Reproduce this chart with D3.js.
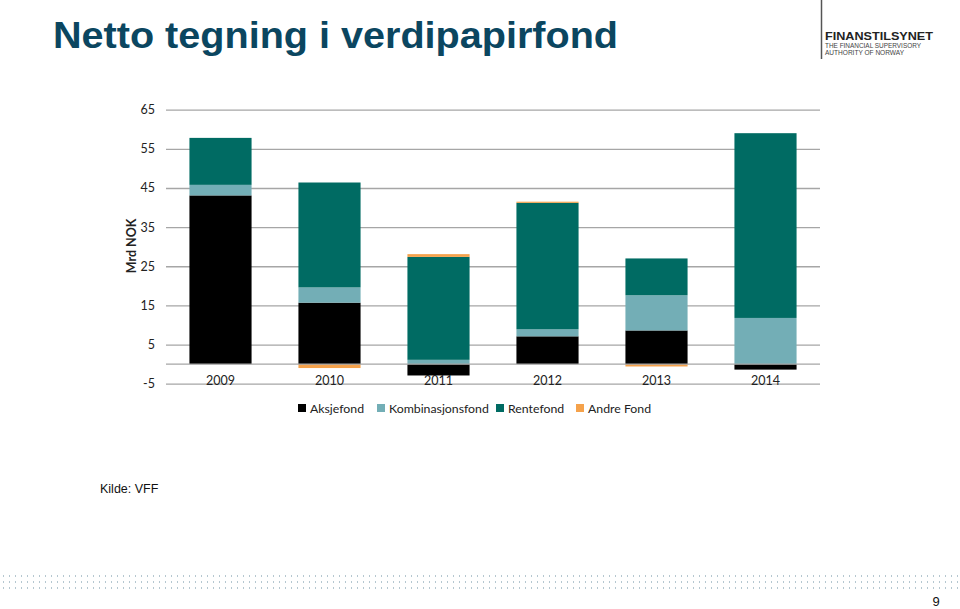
<!DOCTYPE html>
<html><head><meta charset="utf-8">
<script src="https://cdn.jsdelivr.net/npm/d3@7"></script>
<style>body{margin:0;background:#fff;} svg{display:block;}</style>
</head><body>
<svg id="c" width="960" height="609"></svg>
<script>
const years = ["2009","2010","2011","2012","2013","2014"];
const seriesNames = ["Aksjefond","Kombinasjonsfond","Rentefond","Andre Fond"];
const aksjefond        = [43.1, 15.7, -2.9, 7.1, 8.6, -1.4];
const kombinasjonsfond = [2.7, 3.9, 1.1, 1.8, 9.0, 11.8];
const rentefond        = [12.0, 26.8, 26.3, 32.3, 9.4, 47.2];
const andreFond        = [0.0, -1.0, 0.7, 0.3, -0.6, 0.0];
const yTicks = [-5, 5, 15, 25, 35, 45, 55, 65];
const colors = ["#000000","#73aeb6","#006b63","#f5a24b"];

const svg = d3.select("#c");
const seriesVals = [aksjefond, kombinasjonsfond, rentefond, andreFond];

const x = d3.scaleBand().domain(years).range([166, 820]).paddingInner(0.43).paddingOuter(0.215);
const y = d3.scaleLinear().domain([-5, 65]).range([383.7, 109.7]);

// Title
svg.append("text").attr("x", 53).attr("y", 48)
  .attr("font-family", "Liberation Sans, Arial, sans-serif").attr("font-weight", "bold")
  .attr("font-size", 36).attr("fill", "#0b4660").attr("textLength", 565).attr("lengthAdjust","spacingAndGlyphs")
  .text("Netto tegning i verdipapirfond");

// Logo
svg.append("line").attr("x1", 821.5).attr("x2", 821.5).attr("y1", 0).attr("y2", 59).attr("stroke", "#555").attr("stroke-width", 1.5);
svg.append("text").attr("x", 825).attr("y", 39.5).attr("font-family", "Liberation Sans, Arial, sans-serif")
  .attr("font-weight", "bold").attr("font-size", 11.5).attr("fill", "#222").attr("textLength", 108).attr("lengthAdjust","spacingAndGlyphs").text("FINANSTILSYNET");
svg.append("text").attr("x", 825).attr("y", 48).attr("font-family", "Liberation Sans, Arial, sans-serif")
  .attr("font-size", 7).attr("fill", "#444").attr("textLength", 96).attr("lengthAdjust","spacingAndGlyphs").text("THE FINANCIAL SUPERVISORY");
svg.append("text").attr("x", 825).attr("y", 55).attr("font-family", "Liberation Sans, Arial, sans-serif")
  .attr("font-size", 7).attr("fill", "#444").attr("textLength", 79).attr("lengthAdjust","spacingAndGlyphs").text("AUTHORITY OF NORWAY");

// Gridlines
const yAxis = d3.axisLeft(y).tickValues(yTicks).tickSize(-(820 - 166)).tickFormat(d => String(d));
const gy = svg.append("g").attr("transform", "translate(166,0)").call(yAxis);
gy.select(".domain").remove();
gy.selectAll(".tick line").attr("stroke", "#a6a6a6").attr("stroke-width", 1.3);
gy.selectAll(".tick text").attr("x", -11).attr("font-family", "Lato, Open Sans, sans-serif").attr("font-size", 12.5).attr("fill", "#222");

// Stacked bars (positive and negative stacked separately)
const data = years.map((yr, i) => {
  const o = {year: yr};
  seriesNames.forEach((s, k) => o[s] = seriesVals[k][i]);
  return o;
});
const stack = d3.stack().keys(seriesNames).offset(d3.stackOffsetDiverging);
const stacked = stack(data);
svg.append("g").selectAll("g").data(stacked).join("g")
  .attr("fill", (d, k) => colors[k])
  .selectAll("rect").data(d => d).join("rect")
  .attr("x", d => x(d.data.year))
  .attr("width", x.bandwidth())
  .attr("y", d => y(Math.max(d[0], d[1])))
  .attr("height", d => Math.abs(y(d[0]) - y(d[1])));

// Zero axis line
svg.append("line").attr("x1", 166).attr("x2", 820).attr("y1", y(0)).attr("y2", y(0)).attr("stroke", "#a6a6a6").attr("stroke-width", 1.3);

// Category labels
const xAxis = d3.axisBottom(x).tickSize(0).tickPadding(0);
const gx = svg.append("g").attr("transform", "translate(0," + (y(0) + 15) + ")").call(xAxis);
gx.select(".domain").remove();
gx.selectAll(".tick text").attr("font-family", "Lato, Open Sans, sans-serif").attr("font-size", 12.5).attr("fill", "#222").attr("dy", "0.5em");

// Y label
svg.append("text").attr("transform", "translate(136,246) rotate(-90)").attr("text-anchor", "middle")
  .attr("font-family", "Lato, Open Sans, sans-serif").attr("font-weight", "bold").attr("font-size", 12.5).attr("fill", "#222").text("Mrd NOK");

// Legend
const legendX = [298, 377, 496, 576];
const lg = svg.append("g");
seriesNames.forEach((s, k) => {
  lg.append("rect").attr("x", legendX[k]).attr("y", 404).attr("width", 8).attr("height", 8).attr("fill", colors[k]);
  lg.append("text").attr("x", legendX[k] + 12).attr("y", 412.5).attr("font-family", "Lato, Open Sans, sans-serif")
    .attr("font-size", 12.3).attr("fill", "#222").text(s);
});

// Source
svg.append("text").attr("x", 100).attr("y", 493).attr("font-family", "Liberation Sans, Arial, sans-serif")
  .attr("font-size", 12.5).attr("fill", "#111").text("Kilde: VFF");

// Dotted band
const dotRows = [576, 582, 588];
const dotXs = d3.range(3, 960, 6);
const dg = svg.append("g").attr("fill", "#b5c7d0");
dotRows.forEach(r => dotXs.forEach(dx => dg.append("rect").attr("x", dx).attr("y", r - 1).attr("width", 1).attr("height", 2)));

// Page number
svg.append("text").attr("x", 936).attr("y", 606).attr("text-anchor", "middle").attr("font-family", "Liberation Sans, Arial, sans-serif")
  .attr("font-size", 13).attr("fill", "#111").text("9");
</script>
</body></html>
